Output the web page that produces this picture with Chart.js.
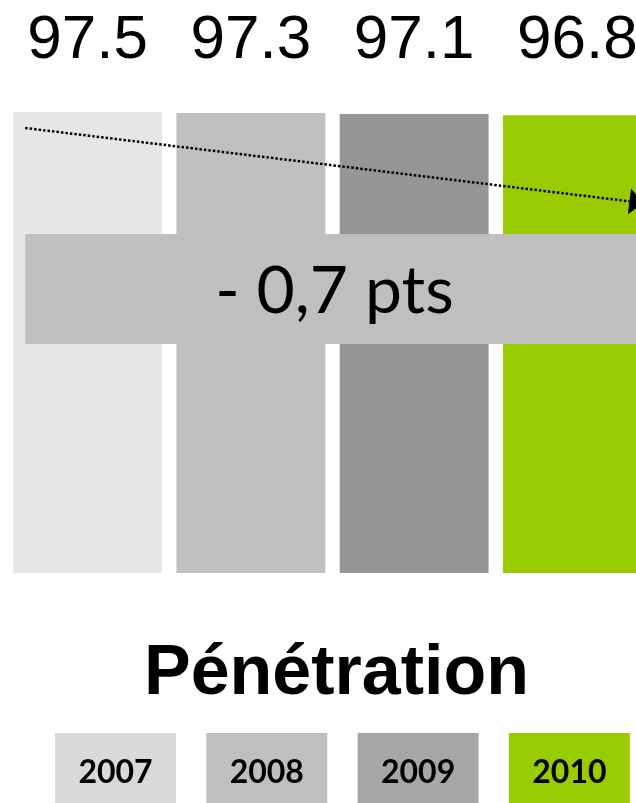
<!DOCTYPE html>
<html>
<head>
<meta charset="utf-8">
<script src="https://cdn.jsdelivr.net/npm/chart.js@4/dist/chart.umd.min.js"></script>
<style>
  html, body { margin: 0; padding: 0; background: #ffffff; overflow: hidden; }
  #wrap { width: 636px; height: 803px; overflow: hidden; position: relative; }
  #c { display: block; }
</style>
</head>
<body>
<div id="wrap"><canvas id="c" width="668" height="803"></canvas></div>
<script>
// Yearly penetration rate (%)
const years = ['2007', '2008', '2009', '2010'];
const penetration = [97.5, 97.3, 97.1, 96.8];
const barColors = ['#e6e6e6', '#c0c0c0', '#969696', '#99cc00'];
const legendColors = ['#d9d9d9', '#bfbfbf', '#a6a6a6', '#99cc00'];
const chartTitle = 'Pénétration';

// Change between first and last year, written the French way
const delta = penetration[penetration.length - 1] - penetration[0];
const deltaText = (delta < 0 ? '- ' : '+ ') + Math.abs(delta).toFixed(1).replace('.', ',') + ' pts';

const annotations = {
  id: 'annotations',
  afterDatasetsDraw(chart) {
    const ctx = chart.ctx;
    const bars = chart.getDatasetMeta(0).data;
    const area = chart.chartArea;
    const first = bars[0], last = bars[bars.length - 1];
    const half = first.width / 2;

    ctx.save();
    // value labels above the columns
    ctx.fillStyle = '#000000';
    ctx.font = '62px "Liberation Sans", Arial, sans-serif';
    ctx.textAlign = 'center';
    ctx.textBaseline = 'alphabetic';
    bars.forEach((b, i) => ctx.fillText(penetration[i].toFixed(1), b.x, 58));

    // dotted trend arrow from the first to the last column
    const x0 = first.x - half + 12, y0 = area.top + 16;
    const tipX = last.x + 66, tipY = area.top + 91;
    const ang = Math.atan2(tipY - y0, tipX - x0);
    const headLen = 14, headHalf = 13;
    const bx = tipX - headLen * Math.cos(ang), by = tipY - headLen * Math.sin(ang);
    ctx.strokeStyle = '#000000';
    ctx.lineWidth = 2.5;
    ctx.setLineDash([2.5, 2]);
    ctx.beginPath();
    ctx.moveTo(x0, y0);
    ctx.lineTo(bx, by);
    ctx.stroke();
    ctx.setLineDash([]);
    ctx.beginPath();
    ctx.moveTo(tipX, tipY);
    ctx.lineTo(bx - headHalf * Math.sin(ang), by + headHalf * Math.cos(ang));
    ctx.lineTo(bx + headHalf * Math.sin(ang), by - headHalf * Math.cos(ang));
    ctx.closePath();
    ctx.fillStyle = '#000000';
    ctx.fill();

    // change banner across the columns
    const boxL = first.x - half + 12, boxR = last.x + half - 8;
    const boxT = area.top + 122, boxB = area.top + 232;
    ctx.fillStyle = '#bfbfbf';
    ctx.fillRect(boxL, boxT, boxR - boxL, boxB - boxT);
    ctx.fillStyle = '#000000';
    ctx.font = '66px Lato, "Open Sans", sans-serif';
    ctx.fillText(deltaText, (boxL + boxR) / 2, boxT + 79);

    // title under the columns
    ctx.font = 'bold 70px "Liberation Sans", Arial, sans-serif';
    ctx.fillText(chartTitle, 336.5, 694);

    // year legend
    const legW = 121, legH = 72, legPitch = 151.3, legL = 55, legT = 733;
    ctx.font = 'bold 32px Lato, "Open Sans", sans-serif';
    years.forEach((y, i) => {
      const lx = legL + i * legPitch;
      ctx.fillStyle = legendColors[i];
      ctx.fillRect(lx, legT, legW, legH);
      ctx.fillStyle = '#000000';
      ctx.fillText(y, lx + legW / 2, 783);
    });
    ctx.restore();
  }
};

function draw() {
  new Chart(document.getElementById('c'), {
    type: 'bar',
    data: {
      labels: years,
      datasets: [{
        data: penetration,
        backgroundColor: barColors,
        borderWidth: 0,
        categoryPercentage: 1,
        barPercentage: 0.912
      }]
    },
    options: {
      responsive: false,
      animation: false,
      devicePixelRatio: 1,
      layout: { padding: { top: 112, bottom: 230, left: 6, right: 9 } },
      plugins: { legend: { display: false }, title: { display: false }, tooltip: { enabled: false } },
      scales: {
        x: { display: false },
        y: { display: false, min: 0, max: 97.5 }
      }
    },
    plugins: [annotations]
  });
}

Promise.all([
  document.fonts.load('62px "Liberation Sans"'),
  document.fonts.load('bold 70px "Liberation Sans"'),
  document.fonts.load('66px Lato'),
  document.fonts.load('bold 32px Lato')
]).then(draw, draw);
</script>
</body>
</html>
